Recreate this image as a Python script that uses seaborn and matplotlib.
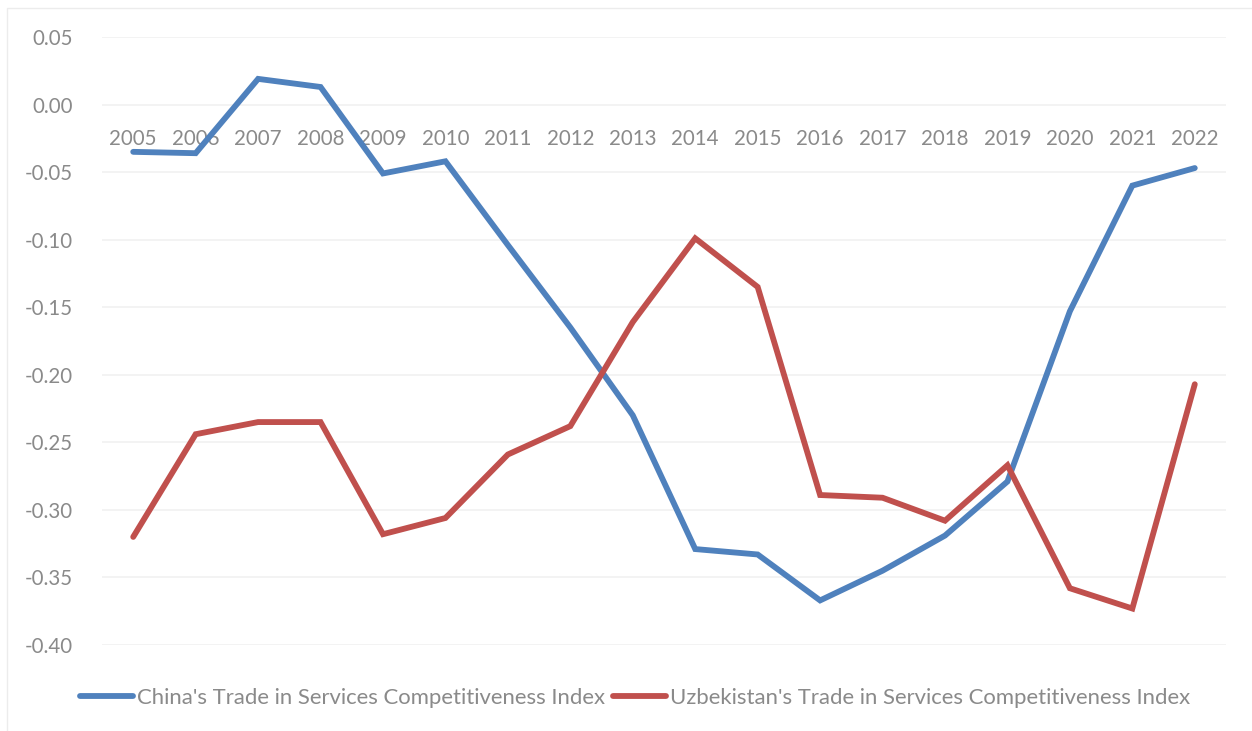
import numpy as np
import pandas as pd
import matplotlib
matplotlib.use("Agg")
import matplotlib.pyplot as plt
import seaborn as sns
from matplotlib.patches import Rectangle

years = [2005, 2006, 2007, 2008, 2009, 2010, 2011, 2012, 2013,
         2014, 2015, 2016, 2017, 2018, 2019, 2020, 2021, 2022]
china_tc = [-0.035, -0.036, 0.019, 0.013, -0.051, -0.042, -0.104, -0.165, -0.230,
            -0.329, -0.333, -0.367, -0.345, -0.319, -0.279, -0.153, -0.060, -0.047]
uzbek_tc = [-0.320, -0.244, -0.235, -0.235, -0.318, -0.306, -0.259, -0.238, -0.161,
            -0.099, -0.135, -0.289, -0.291, -0.308, -0.267, -0.358, -0.373, -0.207]
series_names = ["China's Trade in Services Competitiveness Index",
                "Uzbekistan's Trade in Services Competitiveness Index"]
series_colors = ["#4F81BD", "#C0504D"]
y_ticks = [0.05, 0.00, -0.05, -0.10, -0.15, -0.20, -0.25, -0.30, -0.35, -0.40]

df = pd.DataFrame({
    "year": years * 2,
    "value": china_tc + uzbek_tc,
    "series": [series_names[0]] * len(years) + [series_names[1]] * len(years),
})

sns.set_theme(style="white")
plt.rcParams["font.family"] = ["Lato", "DejaVu Sans"]

W, H = 1252, 731
fig = plt.figure(figsize=(W / 100, H / 100), dpi=100)
fig.patch.set_facecolor("white")

left, right, top, bottom = 102, 1226, 37, 645
ax = fig.add_axes([left / W, 1 - bottom / H, (right - left) / W, (bottom - top) / H])

sns.lineplot(data=df, x="year", y="value", hue="series",
             palette=dict(zip(series_names, series_colors)),
             linewidth=4.2, ax=ax, legend=True)
for ln in ax.lines:
    ln.set_solid_capstyle("round")
    ln.set_solid_joinstyle("miter")

ax.set_xlim(years[0] - 0.5, years[-1] + 0.5)
ax.set_ylim(-0.40, 0.05)
ax.set_yticks(y_ticks)
ax.set_yticklabels([f"{v:.2f}" for v in y_ticks])
ax.set_xticks(years)
ax.set_xticklabels([str(y) for y in years])
ax.set_xlabel("")
ax.set_ylabel("")

# category labels sit under the zero line
ax.spines["bottom"].set_position(("data", 0))
for s in ax.spines.values():
    s.set_visible(False)

ax.yaxis.grid(True, color="#F2F2F2", linewidth=1.3)
ax.xaxis.grid(False)
ax.set_axisbelow(True)

label_color = "#8A8A8A"
ax.tick_params(axis="x", length=0, pad=17.5, labelsize=14.8, labelcolor=label_color)
ax.tick_params(axis="y", length=0, pad=21, labelsize=14.8, labelcolor=label_color)

handles, labels = ax.get_legend_handles_labels()
ax.get_legend().remove()
leg = fig.legend(handles, labels, loc="center", bbox_to_anchor=(0.5 + 9 / W, 1 - 698 / H),
                 ncol=2, frameon=False, fontsize=15.9, handlelength=2.4,
                 handletextpad=0.18, columnspacing=0.36, labelcolor=label_color)
for h in leg.legend_handles:
    h.set_linewidth(4.2)
    h.set_solid_capstyle("round")

# light chart-area frame
fig.patches.append(Rectangle((7 / W, -0.1), 2.0, 1 - 8 / H + 0.1, transform=fig.transFigure,
                             fill=False, edgecolor="#ECECEC", linewidth=1.0))

fig.savefig("out.png", dpi=100, facecolor="white")
